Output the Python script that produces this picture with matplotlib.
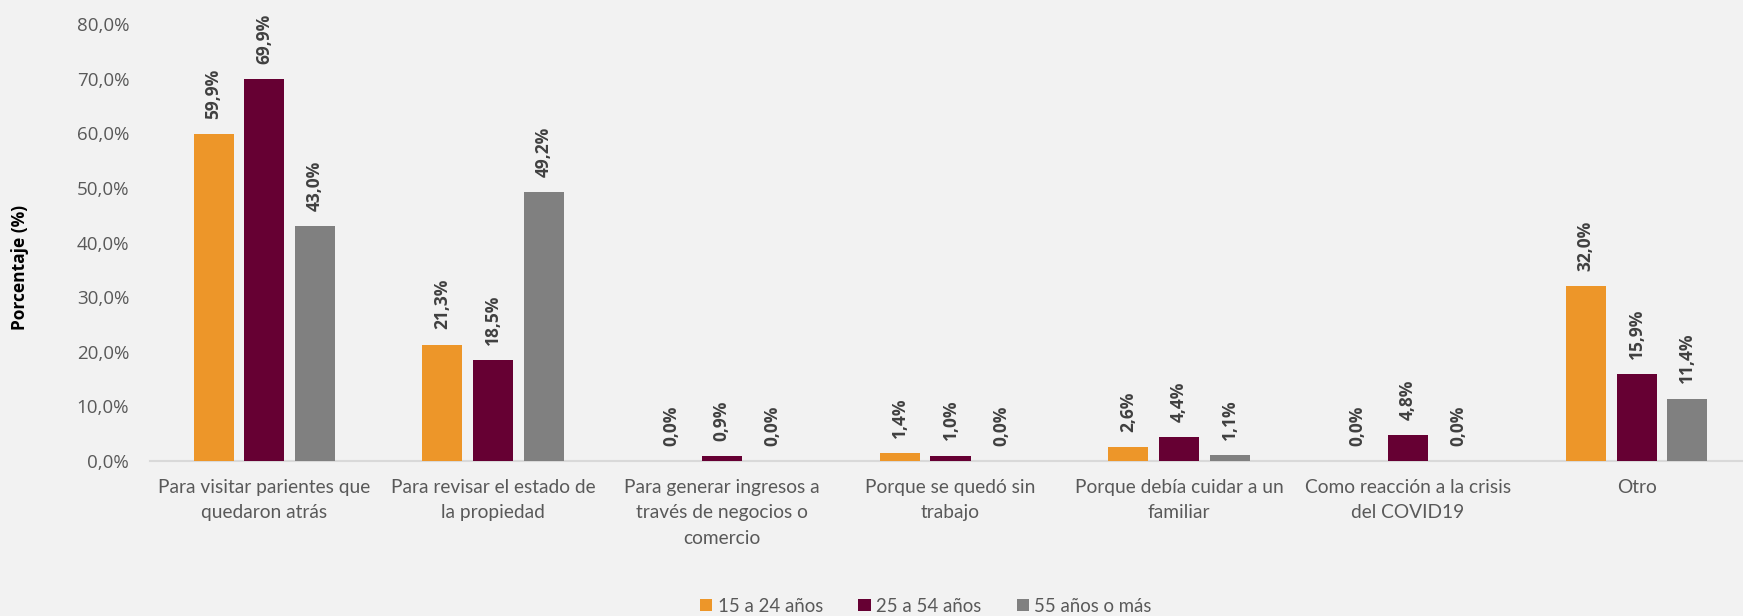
import matplotlib
matplotlib.use("Agg")
import matplotlib.pyplot as plt
import numpy as np

categories = [
    "Para visitar parientes que\nquedaron atrás",
    "Para revisar el estado de\nla propiedad",
    "Para generar ingresos a\ntravés de negocios o\ncomercio",
    "Porque se quedó sin\ntrabajo",
    "Porque debía cuidar a un\nfamiliar",
    "Como reacción a la crisis\ndel COVID19",
    "Otro",
]
series_names = ["15 a 24 años", "25 a 54 años", "55 años o más"]
v_15_24 = [59.9, 21.3, 0.0, 1.4, 2.6, 0.0, 32.0]
v_25_54 = [69.9, 18.5, 0.9, 1.0, 4.4, 4.8, 15.9]
v_55 = [43.0, 49.2, 0.0, 0.0, 1.1, 0.0, 11.4]
yticks = [0, 10, 20, 30, 40, 50, 60, 70, 80]

colors = ["#ED9629", "#660033", "#808080"]
bg = "#F2F2F2"

W, H = 1743, 616
fig = plt.figure(figsize=(W / 100, H / 100), dpi=100, facecolor=bg)
y0, y80 = 461, 24
ax = fig.add_axes([150 / W, (H - y0) / H, 1601 / W, (y0 - y80) / H], facecolor=bg)

x = np.arange(len(categories))
bw = 0.175
off = 0.222
for i, (vals, name, c) in enumerate(zip([v_15_24, v_25_54, v_55], series_names, colors)):
    pos = x + (i - 1) * off
    ax.bar(pos, vals, bw, color=c, label=name, zorder=3)
    for p, v in zip(pos, vals):
        ax.annotate(f"{v:.1f}%".replace(".", ","), (p, v), xytext=(0, 11),
                    textcoords="offset points", rotation=90, ha="center", va="bottom",
                    fontsize=12.5, fontweight="bold", color="#404040", family="Open Sans")

ax.set_xlim(-0.5, len(categories) - 0.5)
ax.set_ylim(0, 80)
ax.set_yticks(yticks)
ax.set_yticklabels([f"{t:.1f}%".replace(".", ",") for t in yticks],
                   fontsize=13.5, color="#595959", family="Open Sans")
ax.set_xticks(x)
ax.set_xticklabels(categories, fontsize=13.8, color="#595959", family="Lato", linespacing=1.6)
ax.tick_params(axis="both", length=0)
ax.tick_params(axis="x", pad=13)
ax.tick_params(axis="y", pad=15)
for s in ["top", "right", "left"]:
    ax.spines[s].set_visible(False)
ax.spines["bottom"].set_color("#D9D9D9")
ax.spines["bottom"].set_linewidth(1.5)

fig.text(20 / W, (H - 267) / H, "Porcentaje (%)", rotation=90, ha="center", va="center",
         fontsize=12.5, fontweight="bold", color="black", family="Open Sans")

leg = fig.legend(loc="center", bbox_to_anchor=(926 / W, (H - 606) / H), ncol=3,
                 frameon=False, handlelength=0.65, handleheight=0.65,
                 handletextpad=0.3, columnspacing=1.9, prop={"family": "Lato", "size": 13.4})
for t in leg.get_texts():
    t.set_color("#595959")

fig.savefig("out.png", dpi=100, facecolor=bg)
